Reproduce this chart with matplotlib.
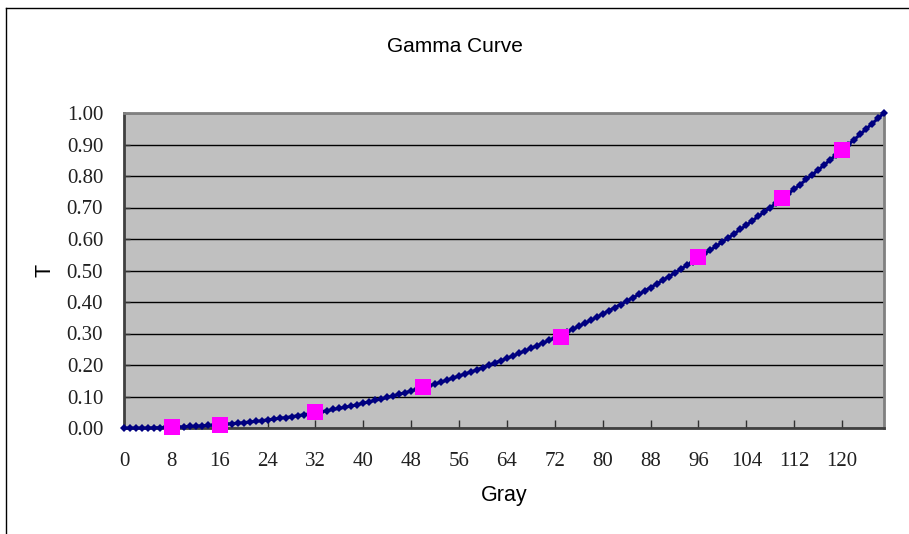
import matplotlib as mpl
mpl.use("Agg")
import matplotlib.pyplot as plt
from matplotlib.lines import Line2D
import numpy as np

# gray levels 0..127 and the transmittance curve
gray = list(range(128))
curve_T = [
    0.000, 0.000, 0.000, 0.000, 0.000, 0.001, 0.001, 0.002, 0.002, 0.003,
    0.004, 0.005, 0.006, 0.007, 0.008, 0.009, 0.010, 0.012, 0.014, 0.015,
    0.017, 0.019, 0.021, 0.023, 0.026, 0.028, 0.031, 0.033, 0.036, 0.039,
    0.042, 0.045, 0.048, 0.052, 0.055, 0.059, 0.062, 0.066, 0.070, 0.074,
    0.079, 0.083, 0.088, 0.092, 0.097, 0.102, 0.107, 0.112, 0.118, 0.123,
    0.129, 0.134, 0.140, 0.146, 0.152, 0.159, 0.165, 0.172, 0.178, 0.185,
    0.192, 0.199, 0.207, 0.214, 0.221, 0.229, 0.237, 0.245, 0.253, 0.261,
    0.270, 0.278, 0.287, 0.296, 0.305, 0.314, 0.323, 0.333, 0.342, 0.352,
    0.362, 0.372, 0.382, 0.392, 0.403, 0.413, 0.424, 0.435, 0.446, 0.457,
    0.469, 0.480, 0.492, 0.504, 0.516, 0.528, 0.540, 0.553, 0.565, 0.578,
    0.591, 0.604, 0.617, 0.631, 0.644, 0.658, 0.672, 0.686, 0.700, 0.714,
    0.729, 0.744, 0.758, 0.773, 0.789, 0.804, 0.819, 0.835, 0.851, 0.867,
    0.883, 0.899, 0.915, 0.932, 0.949, 0.966, 0.983, 1.000,
]

# measured sample points (magenta squares)
sample_gray = [8, 16, 32, 50, 73, 96, 110, 120]
sample_T = [0.003, 0.011, 0.050, 0.129, 0.290, 0.542, 0.730, 0.884]

x_ticks = list(range(0, 128, 8))
y_ticks = [i / 10 for i in range(11)]

fig = plt.figure(figsize=(9.09, 5.34), dpi=100)
ax = fig.add_axes([124 / 909, 1 - 428 / 534, 760 / 909, 315 / 534])
ax.set_facecolor("#C0C0C0")

ax.plot(gray, curve_T, color="#000080", linewidth=2.2, marker="D",
        markersize=4.5, markeredgewidth=0, zorder=3, clip_on=False)
ax.plot(sample_gray, sample_T, linestyle="none", marker="s", markersize=11,
        color="#FF00FF", markeredgewidth=0, zorder=4, clip_on=False)

ax.set_xlim(0, 127)
ax.set_ylim(0, 1.0)
ax.set_xticks(x_ticks)
ax.set_xticklabels([str(v) for v in x_ticks])
ax.set_yticks(y_ticks)
ax.set_yticklabels([f"{v:.2f}" for v in y_ticks])
ax.yaxis.grid(True, color="black", linewidth=1)
ax.set_axisbelow(True)

ax.tick_params(axis="x", direction="in", length=6, width=1, color="#303030",
               pad=17, labelsize=15)
ax.tick_params(axis="y", direction="in", length=4, width=1, color="#303030",
               pad=15, labelsize=15)
for lab in ax.get_xticklabels() + ax.get_yticklabels():
    lab.set_fontfamily("Liberation Serif")
    lab.set_color("#202020")

for side in ["top", "right"]:
    ax.spines[side].set_color("#808080")
    ax.spines[side].set_linewidth(2)
ax.spines["left"].set_color("#404040")
ax.spines["left"].set_linewidth(2)
ax.spines["bottom"].set_color("#404040")
ax.spines["bottom"].set_linewidth(2)

fig.text(455 / 909, 1 - 46 / 534, "Gamma Curve", ha="center", va="center",
         fontsize=15, family="Liberation Sans")
fig.text(504 / 909, 1 - 495 / 534, "Gray", ha="center", va="center",
         fontsize=15.5, family="Liberation Sans")
fig.text(45 / 909, 1 - 270 / 534, "T", ha="center", va="center",
         fontsize=15.5, family="Liberation Sans", rotation=90)

# outer chart frame (left and top edges visible)
fig.add_artist(Line2D([6 / 909, 6 / 909], [0, 1 - 8 / 534], color="black",
                      linewidth=1, transform=fig.transFigure))
fig.add_artist(Line2D([6 / 909, 1], [1 - 8 / 534, 1 - 8 / 534], color="black",
                      linewidth=1, transform=fig.transFigure))

fig.savefig("out.png", dpi=100)
plt.close()
